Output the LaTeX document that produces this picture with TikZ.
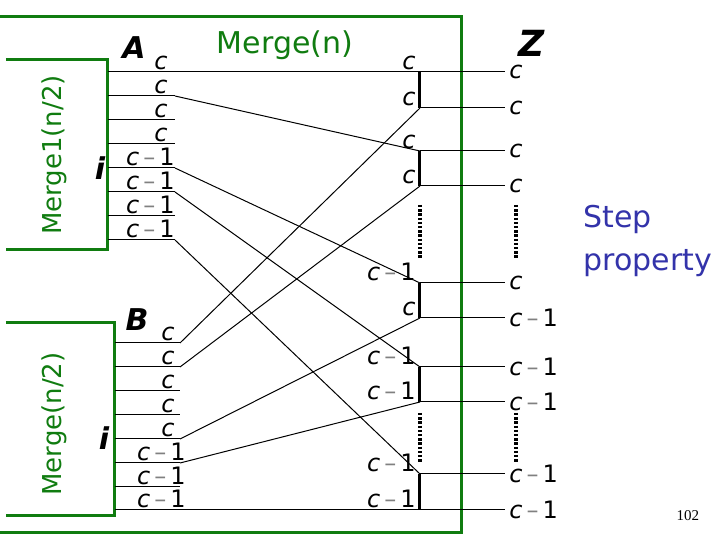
\documentclass[tikz,border=0pt]{standalone}
\usepackage{fontspec}
\setmainfont{DejaVu Sans}
\newfontfamily\pagenumfont{Liberation Serif}
\usepackage{xcolor}
\usetikzlibrary{positioning}
\definecolor{mergegreen}{RGB}{16,124,16}
\definecolor{stepblue}{RGB}{51,51,170}
\newcommand{\cval}{\textit{c}}
\newcommand{\cmone}{\textit{c}\,{\color{gray}–}\,1}
\tikzset{
  greenbox/.style={draw=mergegreen,line width=1.5pt},
  mergelabel/.style={text=mergegreen,font=\fontsize{13}{15}\selectfont,inner sep=0pt},
  wire/.style={line width=0.5pt},
  valuelabel/.style={font=\fontsize{12}{14}\selectfont,inner sep=1pt},
  comparebar/.style={line width=1.5pt},
  dotbar/.style={line width=1.6pt,dash pattern=on 1.2pt off 0.9pt},
  seqletter/.style={font=\fontsize{15}{17}\selectfont\bfseries\itshape,inner sep=0pt}
}

\begin{document}
\begin{tikzpicture}[x=0.5pt,y=-0.5pt]
  \useasboundingbox (0,0) rectangle (720,540);
  % boxes
  \draw[greenbox] (-10,17) rectangle (462,533);
  \draw[greenbox] (6,60) -- (108,60) -- (108,250) -- (6,250);
  \draw[greenbox] (6,323) -- (115,323) -- (115,516) -- (6,516);
  \node[mergelabel,font=\fontsize{15}{17}\selectfont] (mergen) at (285,45) {Merge(n)};
  \node[mergelabel,rotate=90] (mergeA) at (54,155) {Merge1(n/2)};
  \node[mergelabel,rotate=90] (mergeB) at (54,424) {Merge(n/2)};
  % sequence A
  \node[seqletter] (seqA) at (134,48) {A};
  \node[seqletter] (markA) at (100,168) {i};
  \foreach \k/\y in {1/72,2/96,3/120,4/144,5/168,6/192,7/216,8/240}{
    \coordinate (a\k) at (108,\y);
    \coordinate (ae\k) at (175,\y);
    \draw[wire] (a\k) -- (ae\k);
  }
  \foreach \k/\y in {1/72,2/96,3/120,4/144}
    \node[valuelabel,anchor=south] (al\k) at (161,\y) {\cval};
  \foreach \k/\y in {5/168,6/192,7/216,8/240}
    \node[valuelabel,anchor=south east] (al\k) at (177,\y) {\cmone};
  % sequence B
  \node[seqletter] (seqB) at (137,320) {B};
  \node[seqletter] (markB) at (104,438) {i};
  \foreach \k/\y in {1/343,2/367,3/391,4/415,5/439,6/463,7/487,8/510}{
    \coordinate (b\k) at (115,\y);
    \coordinate (be\k) at (180,\y);
    \draw[wire] (b\k) -- (be\k);
  }
  \foreach \k/\y in {1/343,2/367,3/391,4/415,5/439}
    \node[valuelabel,anchor=south] (bl\k) at (168,\y) {\cval};
  \foreach \k/\y in {6/463,7/487,8/510}
    \node[valuelabel,anchor=south east] (bl\k) at (188,\y) {\cmone};
  % merged column and Z
  \node[seqletter,font=\fontsize{18}{20}\selectfont\bfseries\itshape] (seqZ) at (532,43) {Z};
  \foreach \k/\y/\mt/\zt in {1/72/\cval/\cval,2/108/\cval/\cval,3/151/\cval/\cval,
      4/186/\cval/\cval,5/283/\cmone/\cval,6/318/\cval/\cmone,7/367/\cmone/\cmone,
      8/402/\cmone/\cmone,9/474/\cmone/\cmone,10/510/\cmone/\cmone}{
    \coordinate (m\k) at (420,\y);
    \coordinate (z\k) at (505,\y);
    \node[valuelabel,anchor=south east] (ml\k) at (418,\y) {\mt};
    \node[valuelabel,anchor=west] (zl\k) at (507,\y) {\zt};
    \draw[wire] (m\k) -- (z\k);
  }
  \draw[comparebar] (m1) -- (m2);
  \draw[comparebar] (m3) -- (m4);
  \draw[comparebar] (m5) -- (m6);
  \draw[comparebar] (m7) -- (m8);
  \draw[comparebar] (m9) -- (m10);
  \coordinate (dm1) at (420,205); \coordinate (dm2) at (420,258);
  \coordinate (dm3) at (420,413); \coordinate (dm4) at (420,463);
  \coordinate (dz1) at (516,205); \coordinate (dz2) at (516,258);
  \coordinate (dz3) at (516,413); \coordinate (dz4) at (516,463);
  \draw[dotbar] (dm1) -- (dm2);
  \draw[dotbar] (dm3) -- (dm4);
  \draw[dotbar] (dz1) -- (dz2);
  \draw[dotbar] (dz3) -- (dz4);
  % crossing wires
  \draw[wire] (ae1) -- (m1);
  \draw[wire] (ae2) -- (m3);
  \draw[wire] (ae5) -- (m5);
  \draw[wire] (ae6) -- (m7);
  \draw[wire] (ae8) -- (m9);
  \draw[wire] (be1) -- (m2);
  \draw[wire] (be2) -- (m4);
  \draw[wire] (be5) -- (m6);
  \draw[wire] (be6) -- (m8);
  \draw[wire] (be8) -- (m10);
  \node[text=stepblue,font=\fontsize{15}{21.5}\selectfont,align=left,
    anchor=north west,inner sep=0pt] (step) at (583,205) {Step\\property};
  \node[font=\pagenumfont\fontsize{7.5}{9}\selectfont] (pagenum) at (688,516) {102};
\end{tikzpicture}
\end{document}
